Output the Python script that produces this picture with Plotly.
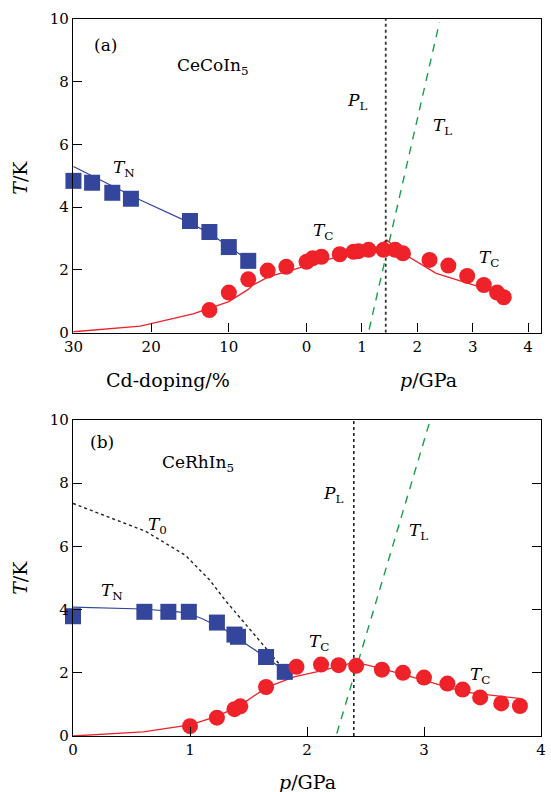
import plotly.graph_objects as go

# ---------------- panel (a): CeCoIn5, Cd doping (left) + pressure (right) ----------------
# Néel temperature vs Cd doping (%)
a_tn_dop = [30, 27.6, 25, 22.6, 15, 12.5, 10, 7.5]
a_tn_T = [4.84, 4.78, 4.46, 4.27, 3.56, 3.21, 2.73, 2.29]
a_tn_fit_dop = [30, 21.4, 15, 12.5, 10, 7.3]
a_tn_fit_T = [5.30, 4.23, 3.50, 3.17, 2.75, 2.27]

# superconducting Tc vs Cd doping (%) and vs pressure (GPa)
a_tc_dop = [12.5, 10, 7.5, 5, 2.6, 0]
a_tc_dop_T = [0.72, 1.28, 1.70, 1.98, 2.10, 2.26]
a_tc_p = [0.11, 0.27, 0.6, 0.85, 0.94, 1.12, 1.39, 1.6, 1.74, 2.22, 2.56, 2.9, 3.2, 3.44, 3.56]
a_tc_p_T = [2.37, 2.42, 2.50, 2.58, 2.60, 2.64, 2.64, 2.64, 2.53, 2.32, 2.14, 1.81, 1.52, 1.28, 1.13]
a_tc_fit_dop = [30, 21.4, 14.6, 10, 7.5, 6.9, 4.9, 2.6]
a_tc_fit_dop_T = [0.03, 0.21, 0.60, 0.99, 1.38, 1.52, 1.78, 1.94]
a_tc_fit_p = [0, 0.46, 1.24, 1.45, 1.74, 2.0, 2.34, 2.76, 3.11, 3.53]
a_tc_fit_p_T = [2.12, 2.37, 2.69, 2.95, 2.53, 2.25, 1.89, 1.66, 1.47, 1.20]

a_tl_p = [1.13, 2.40]
a_tl_T = [0.1, 9.9]
a_pl = 1.43

# ---------------- panel (b): CeRhIn5 vs pressure ----------------
b_tn_p = [0, 0.61, 0.815, 0.99, 1.23, 1.38, 1.41, 1.65, 1.81]
b_tn_T = [3.79, 3.93, 3.93, 3.93, 3.59, 3.21, 3.14, 2.50, 2.03]
b_tn_fit_p = [0, 0.6, 0.9, 1.0, 1.1, 1.3, 1.58, 1.75, 1.85]
b_tn_fit_T = [4.08, 4.02, 3.93, 3.86, 3.72, 3.36, 2.66, 2.24, 1.97]

b_t0_p = [0, 0.62, 0.96, 1.17, 1.30, 1.64, 1.80]
b_t0_T = [7.36, 6.48, 5.72, 4.93, 4.30, 2.82, 2.12]

b_tc_p = [1.0, 1.23, 1.38, 1.43, 1.65, 1.91, 2.12, 2.27, 2.42, 2.64, 2.82, 3.0, 3.2, 3.33, 3.48, 3.66, 3.82]
b_tc_T = [0.31, 0.58, 0.85, 0.94, 1.55, 2.19, 2.26, 2.24, 2.22, 2.10, 2.0, 1.85, 1.66, 1.47, 1.22, 1.03, 0.95]
b_tc_fit_p = [0, 0.6, 1.0, 1.23, 1.43, 1.58, 1.65, 1.89, 2.09, 2.41, 2.64, 3.0, 3.35, 3.83]
b_tc_fit_T = [0, 0.13, 0.35, 0.62, 0.97, 1.36, 1.53, 1.87, 2.04, 2.34, 2.13, 1.76, 1.39, 1.18]

b_tl_p = [2.255, 3.045]
b_tl_T = [0.08, 9.9]
b_pl = 2.40

# tick labels
a_dop_ticks = [30, 20, 10]
a_p_ticks = [0, 1, 2, 3, 4]
b_p_ticks = [0, 1, 2, 3, 4]
t_ticks = [0, 2, 4, 6, 8, 10]

# On the shared axis of panel (a) doping runs leftwards from p = 0;
# one doping percent spans this many GPa-widths.
DOP_SCALE = 0.1402


def dop_to_x(vals):
    return [-d * DOP_SCALE for d in vals]


BLUE = "#34469c"
RED = "#ee2228"
GREEN = "#16a04a"
DARK = "#333333"
FONT = "DejaVu Serif"

fig = go.Figure()


def line(x, y, color, width, dash, ax):
    fig.add_trace(go.Scatter(x=x, y=y, mode="lines",
                             line=dict(color=color, width=width, dash=dash),
                             xaxis="x" + ax, yaxis="y" + ax, hoverinfo="skip"))


def points(x, y, symbol, size, color, ax):
    fig.add_trace(go.Scatter(x=x, y=y, mode="markers", cliponaxis=False,
                             marker=dict(symbol=symbol, size=size, color=color),
                             xaxis="x" + ax, yaxis="y" + ax))


# panel (a)
line(dop_to_x(a_tn_fit_dop), a_tn_fit_T, BLUE, 1.2, "solid", "")
line(dop_to_x(a_tc_fit_dop) + a_tc_fit_p, a_tc_fit_dop_T + a_tc_fit_p_T, RED, 1.3, "solid", "")
line([a_pl, a_pl], [0, 10], DARK, 1.8, "3px,3px", "")
line(a_tl_p, a_tl_T, GREEN, 1.4, "8px,7px", "")
points(dop_to_x(a_tn_dop), a_tn_T, "square", 16, BLUE, "")
points(dop_to_x(a_tc_dop) + a_tc_p, a_tc_dop_T + a_tc_p_T, "circle", 16, RED, "")

# panel (b)
line(b_tn_fit_p, b_tn_fit_T, BLUE, 1.2, "solid", "2")
line(b_t0_p, b_t0_T, "#222222", 1.4, "3px,3px", "2")
line(b_tc_fit_p, b_tc_fit_T, RED, 1.3, "solid", "2")
line([b_pl, b_pl], [0, 10], "#222222", 1.6, "3px,3px", "2")
line(b_tl_p, b_tl_T, GREEN, 1.4, "8px,7px", "2")
points(b_tn_p, b_tn_T, "square", 16, BLUE, "2")
points(b_tc_p, b_tc_T, "circle", 16, RED, "2")

axis_common = dict(showgrid=False, zeroline=False, showline=True, linecolor="black", linewidth=1.4,
                   ticks="inside", ticklen=9, tickwidth=1.2, tickcolor="black",
                   tickfont=dict(family=FONT, size=15, color="black"))

fig.update_layout(
    width=551, height=792,
    margin=dict(l=73, r=5, t=19, b=56),
    paper_bgcolor="white", plot_bgcolor="white",
    showlegend=False,
    xaxis=dict(domain=[0, 1], anchor="y", range=[-4.214, 4.232], mirror=True,
               tickmode="array",
               tickvals=dop_to_x(a_dop_ticks) + a_p_ticks,
               ticktext=[str(v) for v in a_dop_ticks] + [str(v) for v in a_p_ticks],
               **axis_common),
    yaxis=dict(domain=[0.5625, 1], anchor="x", range=[0, 10], mirror=True,
               tickmode="array", tickvals=t_ticks, **axis_common),
    xaxis2=dict(domain=[0, 1], anchor="y2", range=[0, 4], mirror=True,
                tickmode="array", tickvals=b_p_ticks, **axis_common),
    yaxis2=dict(domain=[0, 0.4407], anchor="x2", range=[0, 10], mirror="ticks",
                tickmode="array", tickvals=t_ticks, **axis_common),
)


def label(text, x, y, xref, yref, size=17, angle=0):
    fig.add_annotation(text=text, x=x, y=y, xref=xref, yref=yref, showarrow=False,
                       xanchor="center", yanchor="middle", textangle=angle,
                       font=dict(family=FONT, size=size, color="black"))


# panel (a) labels
label("(a)", -3.625, 9.17, "x", "y")
label("CeCoIn<sub>5</sub>", -1.68, 8.50, "x", "y")
label("<i>T</i><sub>N</sub>", -3.29, 5.22, "x", "y")
label("<i>P</i><sub>L</sub>", 0.91, 7.36, "x", "y")
label("<i>T</i><sub>L</sub>", 2.46, 6.56, "x", "y")
label("<i>T</i><sub>C</sub>", 0.30, 3.24, "x", "y")
label("<i>T</i><sub>C</sub>", 3.30, 2.35, "x", "y")

# panel (b) labels
label("(b)", 0.25, 9.31, "x2", "y2")
label("CeRhIn<sub>5</sub>", 1.07, 8.63, "x2", "y2")
label("<i>T</i><sub>0</sub>", 0.72, 6.65, "x2", "y2")
label("<i>T</i><sub>N</sub>", 0.336, 4.56, "x2", "y2")
label("<i>P</i><sub>L</sub>", 2.22, 7.63, "x2", "y2")
label("<i>T</i><sub>L</sub>", 2.95, 6.46, "x2", "y2")
label("<i>T</i><sub>C</sub>", 2.10, 2.97, "x2", "y2")
label("<i>T</i><sub>C</sub>", 3.48, 1.92, "x2", "y2")

# axis titles
label("<i>T</i>/K", -0.112, 0.778, "paper", "paper", size=19, angle=-90)
label("<i>T</i>/K", -0.112, 0.220, "paper", "paper", size=19, angle=-90)
label("Cd-doping/%", 0.203, 0.4965, "paper", "paper", size=19)
label("<i>p</i>/GPa", 0.759, 0.4965, "paper", "paper", size=19)
label("<i>p</i>/GPa", 0.501, -0.064, "paper", "paper", size=19)

fig.write_html("out.html")
